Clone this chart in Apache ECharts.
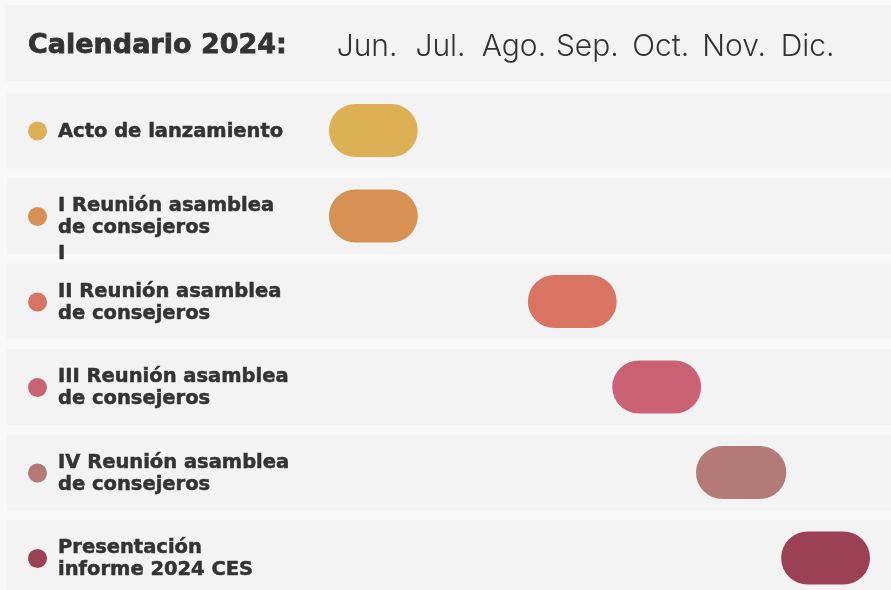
<!DOCTYPE html>
<html>
<head>
<meta charset="utf-8">
<script src="https://cdn.jsdelivr.net/npm/echarts@6/dist/echarts.min.js"></script>
<style>
  html, body { margin: 0; padding: 0; background: #f8f8f8; }
  #main { width: 891px; height: 590px; }
</style>
</head>
<body>
<div id="main"></div>
<script>
// meses (Jun = 0)
var months = ["Jun.", "Jul.", "Ago.", "Sep.", "Oct.", "Nov.", "Dic."];
var activities = [
  "Acto de lanzamiento",
  "I Reunión asamblea\nde consejeros\nI",
  "II Reunión asamblea\nde consejeros",
  "III Reunión asamblea\nde consejeros",
  "IV Reunión asamblea\nde consejeros",
  "Presentación\ninforme 2024 CES"
];
// inicio y fin de cada evento, en meses desde junio
var starts = [-0.52, -0.52, 2.19, 3.34, 4.48, 5.64];
var ends = [0.69, 0.69, 3.40, 4.55, 5.71, 6.85];
var colors = ["#deb056", "#d79153", "#d97462", "#ca6274", "#b57a78", "#9b4055"];

var myChart = echarts.init(document.getElementById("main"));

var dotRich = {};
colors.forEach(function (c, i) {
  dotRich["c" + i] = { width: 19, height: 19, borderRadius: 9.5, backgroundColor: c };
});

var labelFont = { fontSize: 19.5, fontWeight: "bold", fontFamily: "DejaVu Sans", color: "#333333",
  textBorderColor: "#333333", textBorderWidth: 0.5 };

var option = {
  backgroundColor: "#f8f8f8",
  animation: false,
  grid: { left: 0, right: 10, top: 87.75, height: 513, outerBoundsMode: "none" },
  graphic: [
    { type: "rect", z: 0, shape: { x: 5, y: 5, width: 886, height: 76 }, style: { fill: "#f3f3f3" } },
    {
      type: "text", z: 5, x: 28, y: 46,
      style: { text: "Calendario 2024:", font: "bold 27px 'DejaVu Sans'", fill: "#333333",
        stroke: "#333333", lineWidth: 0.8, verticalAlign: "middle" }
    }
  ],
  xAxis: {
    type: "value", position: "top", min: -5, max: 7, interval: 1, z: 10,
    axisLine: { show: false }, axisTick: { show: false }, splitLine: { show: false },
    axisLabel: {
      margin: 26, color: "#333333", fontSize: 30, fontWeight: 300, fontFamily: "Inter",
      formatter: function (v) { return v >= 0 && v < months.length ? months[v] : ""; }
    }
  },
  yAxis: [
    {
      type: "category", position: "left", inverse: true, data: activities, z: 10,
      axisLine: { show: false }, axisTick: { show: false }, splitLine: { show: false },
      axisLabel: {
        inside: true, margin: 58, padding: [2, 0, 0, 0],
        formatter: function (v) {
          var lines = v.split("\n");
          var out = lines.slice(0, 2).map(function (l) { return "{b|" + l + "}"; });
          if (lines.length === 3) {
            out.unshift("{s| }");
            out.push("{s|" + lines[2] + "}");
          }
          return out.join("\n");
        },
        rich: {
          b: Object.assign({ lineHeight: 22 }, labelFont),
          s: Object.assign({ lineHeight: 30 }, labelFont)
        }
      }
    },
    {
      type: "category", position: "left", offset: 0, inverse: true, data: activities, z: 10,
      axisLine: { show: false }, axisTick: { show: false }, splitLine: { show: false },
      axisLabel: {
        inside: true, margin: 28, padding: [1, 0, 0, 0],
        formatter: function (v, i) { return "{c" + i + "| }"; },
        rich: dotRich
      }
    }
  ],
  series: [
    {
      type: "custom", z: 1, silent: true,
      data: activities.map(function (a, i) { return [0, i]; }),
      encode: { x: 0, y: 1 },
      renderItem: function (params, api) {
        var p = api.coord([0, api.value(1)]);
        var h = api.size([0, 1])[1] - 9.5;
        return { type: "rect", shape: { x: 7, y: p[1] - h / 2, width: api.getWidth() - 7, height: h }, style: { fill: "#f3f3f3" } };
      }
    },
    {
      type: "custom", z: 2,
      data: activities.map(function (a, i) { return [starts[i], ends[i], i]; }),
      encode: { x: [0, 1], y: 2 },
      renderItem: function (params, api) {
        var row = api.value(2);
        var p0 = api.coord([api.value(0), row]);
        var p1 = api.coord([api.value(1), row]);
        var h = api.size([0, 1])[1] * 0.62;
        return {
          type: "rect",
          shape: { x: p0[0], y: p0[1] - h / 2, width: p1[0] - p0[0], height: h, r: h / 2 },
          style: { fill: colors[params.dataIndex] }
        };
      }
    }
  ]
};

option && myChart.setOption(option);
</script>
</body>
</html>
